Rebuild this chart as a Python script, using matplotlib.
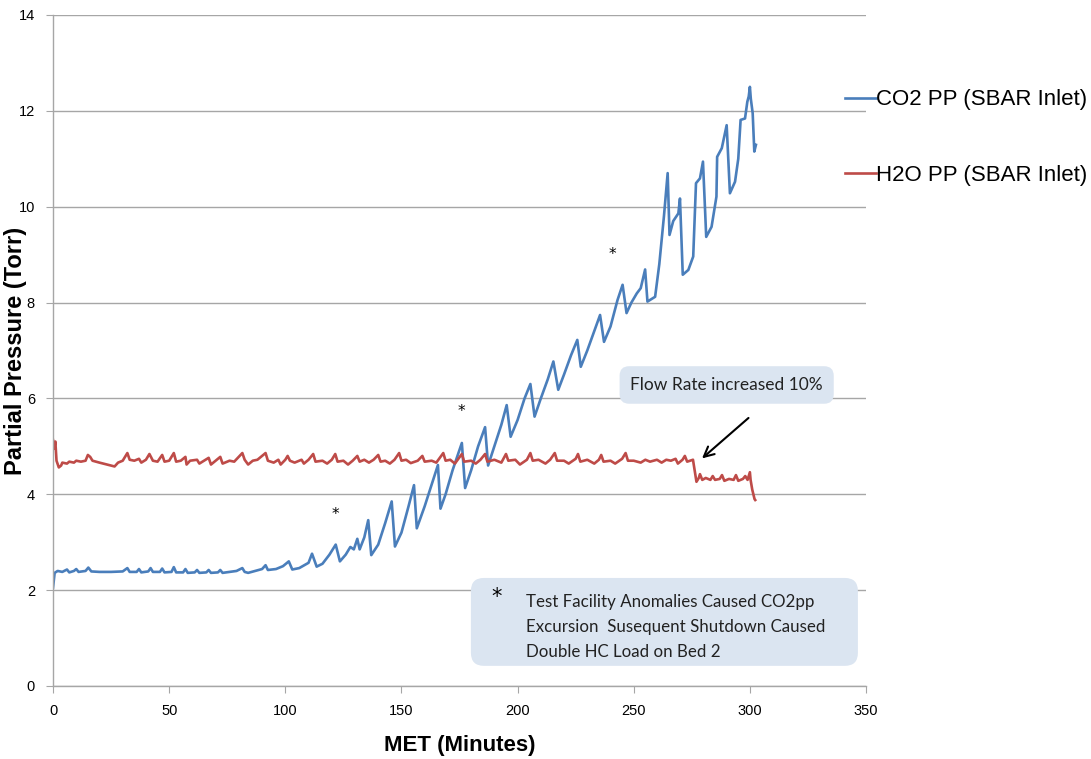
import numpy as np
import matplotlib.pyplot as plt
from matplotlib.patches import FancyBboxPatch

# =========================
# DONNEES
# =========================

# CO2 partial pressure at SBAR inlet (Torr) vs MET (min)
co2_t = [0, 0.7, 2, 4, 6, 7, 9, 10, 11, 14, 15.2, 16.5, 20, 25, 30, 32, 33, 36, 37, 38,
         41, 42, 43, 46, 47, 48, 51, 52, 53, 56, 57, 58, 61, 62, 63, 66, 67, 68, 71, 72,
         73, 76, 79, 81.5, 82.5, 84, 87, 90, 91.5, 92.5, 96, 99, 101.5, 103, 106, 110, 111.5,
         113.5, 116, 119, 121.7, 123.5, 126, 128, 129.5, 131, 132, 134, 135.7, 137, 140, 143,
         145.8, 147.2, 150, 153, 155.4, 156.6, 160, 163, 165.7, 166.8, 169, 172, 176, 177.4,
         180, 183, 186, 187.3, 190, 193, 195.3, 197, 200, 203, 205.5, 207.3, 210, 213, 215.4,
         217.5, 220, 223, 225.7, 227.2, 230, 233, 235.5, 237.2, 240, 243, 245.2, 246.9, 249,
         251.3, 253, 254.9, 255.9, 259.2, 261, 263, 264.6, 265.4, 267, 269.2, 269.9, 271.1,
         273.5, 275.6, 276.8, 278.5, 279.8, 281.2, 283.5, 285.6, 285.9, 287.9, 290, 291.4,
         293.6, 295, 296, 297.9, 298.9, 299.5, 300, 300.4, 301.2, 301.9, 302.6]
co2_pp = [2.05, 2.36, 2.4, 2.38, 2.43, 2.37, 2.4, 2.44, 2.38, 2.4, 2.47, 2.39, 2.38, 2.38, 2.39, 2.46, 2.38, 2.38, 2.44, 2.37,
          2.39, 2.46, 2.38, 2.38, 2.45, 2.37, 2.38, 2.48, 2.37, 2.37, 2.44, 2.36, 2.37, 2.42, 2.36, 2.37, 2.42, 2.36, 2.37, 2.42,
          2.36, 2.38, 2.4, 2.46, 2.38, 2.36, 2.4, 2.44, 2.52, 2.42, 2.44, 2.5, 2.6, 2.43, 2.46, 2.57, 2.76,
          2.49, 2.55, 2.74, 2.95, 2.6, 2.74, 2.9, 2.85, 3.07, 2.85, 3.1, 3.46, 2.73, 2.95, 3.4,
          3.85, 2.91, 3.2, 3.74, 4.19, 3.29, 3.75, 4.2, 4.61, 3.7, 4.0, 4.5, 5.07, 4.13,
          4.5, 5.0, 5.4, 4.6, 5.0, 5.45, 5.86, 5.2, 5.55, 6.0, 6.3, 5.62, 6.0, 6.4, 6.77,
          6.18, 6.5, 6.9, 7.22, 6.66, 7.0, 7.4, 7.74, 7.18, 7.5, 8.05, 8.37, 7.78, 8.0,
          8.19, 8.3, 8.69, 8.02, 8.12, 8.8, 9.8, 10.7, 9.41, 9.7, 9.86, 10.17, 8.58,
          8.68, 8.96, 10.49, 10.59, 10.94, 9.37, 9.58, 10.21, 11.04, 11.22, 11.7, 10.28,
          10.52, 11.0, 11.81, 11.84, 12.19, 12.3, 12.5, 12.25, 11.95, 11.15, 11.29]

# H2O partial pressure at SBAR inlet (Torr) vs MET (min)
h2o_t = [0, 0.5, 1, 1.5, 2.5, 3.5, 4, 6, 7, 9, 10, 12, 14, 15, 16, 17, 20, 24, 26.5, 28,
         30, 32, 33, 35, 37, 38, 40, 41.5, 43, 45, 47, 48, 50, 52, 53, 55, 57, 57.5, 59, 62,
         63, 65, 67, 68, 70, 72, 73, 76, 78, 81.5, 82.5, 84, 86, 88, 91.5, 92.5, 95, 97, 98, 100,
         101, 102, 104, 107, 108, 110, 112, 113, 116, 118, 120, 121.5, 122.5, 125, 127, 129, 131,
         132, 134, 136, 138, 140, 141, 143, 145, 147, 149, 150, 152, 154, 157, 159, 160, 163,
         165, 168, 169, 171, 173, 176, 177, 180, 182, 184, 186, 187, 190, 193, 195, 196, 199,
         201, 204, 205.5, 206.5, 209, 212, 214, 216, 217, 220, 222, 225, 226, 227, 230, 233,
         235, 236, 237, 240, 242, 245, 246.5, 247.5, 250, 253, 255, 257, 260, 262, 264, 266,
         268, 269, 271, 272, 273, 275.5, 276.5, 277, 278, 278.5, 279.5, 281, 283, 284, 285,
         287, 288, 289, 291, 293, 294, 295, 297, 298, 299, 300, 300.3, 301, 302, 302.3]
h2o_pp = [5.13, 4.95, 5.1, 4.7, 4.56, 4.6, 4.66, 4.64, 4.68, 4.66, 4.7, 4.68, 4.7, 4.82, 4.78, 4.7, 4.66, 4.61, 4.58, 4.66,
          4.7, 4.86, 4.72, 4.7, 4.74, 4.66, 4.72, 4.84, 4.7, 4.68, 4.82, 4.68, 4.7, 4.86, 4.68, 4.7, 4.78, 4.62, 4.7, 4.72,
          4.64, 4.7, 4.76, 4.62, 4.7, 4.78, 4.64, 4.7, 4.68, 4.86, 4.72, 4.62, 4.7, 4.72, 4.86, 4.7, 4.66, 4.72, 4.62, 4.72,
          4.8, 4.7, 4.66, 4.72, 4.64, 4.72, 4.84, 4.68, 4.7, 4.64, 4.72, 4.84, 4.68, 4.7, 4.62, 4.7, 4.8,
          4.68, 4.72, 4.66, 4.72, 4.82, 4.68, 4.7, 4.64, 4.72, 4.86, 4.7, 4.72, 4.65, 4.7, 4.8, 4.68, 4.7,
          4.66, 4.86, 4.7, 4.72, 4.64, 4.84, 4.68, 4.7, 4.64, 4.72, 4.84, 4.68, 4.72, 4.66, 4.84, 4.7, 4.72,
          4.62, 4.72, 4.86, 4.7, 4.72, 4.64, 4.72, 4.86, 4.7, 4.7, 4.64, 4.74, 4.84, 4.68, 4.72, 4.64,
          4.72, 4.82, 4.68, 4.7, 4.64, 4.74, 4.86, 4.7, 4.7, 4.66, 4.72, 4.68, 4.72, 4.66, 4.72, 4.7,
          4.74, 4.64, 4.72, 4.8, 4.68, 4.72, 4.42, 4.26, 4.34, 4.42, 4.3, 4.34, 4.3, 4.38, 4.3,
          4.32, 4.4, 4.28, 4.32, 4.3, 4.4, 4.28, 4.32, 4.38, 4.3, 4.46, 4.3, 4.1, 3.9, 3.88]

series_labels = ['CO2 PP (SBAR Inlet)', 'H2O PP (SBAR Inlet)']
x_ticks = [0, 50, 100, 150, 200, 250, 300, 350]
y_ticks = [0, 2, 4, 6, 8, 10, 12, 14]

# positions des asterisques (anomalies)
star_t = [121.4, 175.6, 240.6]
star_y = [3.57, 5.72, 9.0]

# =========================
# FIGURE
# =========================

fig = plt.figure(figsize=(10.91, 7.59), dpi=100)
ax = fig.add_axes([0.0486, 0.0962, 0.7452, 0.8841])

ax.plot(co2_t, co2_pp, color='#4a7ebb', lw=1.9, label=series_labels[0])
ax.plot(h2o_t, h2o_pp, color='#be4b48', lw=1.9, label=series_labels[1])

ax.set_xlim(0, 350)
ax.set_ylim(0, 14)
ax.set_xticks(x_ticks)
ax.set_yticks(y_ticks)
ax.yaxis.grid(True, color='#a6a6a6', lw=1.0)
ax.set_axisbelow(True)
for s in ['top', 'right']:
    ax.spines[s].set_visible(False)
for s in ['left', 'bottom']:
    ax.spines[s].set_color('#a6a6a6')
    ax.spines[s].set_linewidth(1.0)
ax.tick_params(axis='both', colors='#a6a6a6', length=5, labelcolor='black',
               labelsize=10.5, pad=8)
for lab in ax.get_xticklabels() + ax.get_yticklabels():
    lab.set_family('Liberation Sans')

ax.set_xlabel('MET (Minutes)', fontsize=16, fontweight='bold', family='Liberation Sans')
ax.xaxis.set_label_coords(0.5, -0.073)
ax.set_ylabel('Partial Pressure (Torr)', fontsize=17, fontweight='bold', family='Liberation Sans')
ax.yaxis.set_label_coords(-0.032, 0.5)

# asterisques
for t, y in zip(star_t, star_y):
    ax.text(t, y, '*', fontsize=11, ha='center', va='center', color='black')

# boite "Flow Rate increased 10%"
ax.text(290, 6.28, 'Flow Rate increased 10%', fontsize=12.5, family='Lato', ha='center', va='center',
        color='#222222',
        bbox=dict(boxstyle='round,pad=0.62,rounding_size=0.55', fc='#dbe5f1', ec='none'))
ax.annotate('', xy=(278.5, 4.71), xytext=(300.3, 5.63),
            arrowprops=dict(arrowstyle='->', color='black', lw=1.5, mutation_scale=18))

# boite des anomalies (coordonnees axes)
box = FancyBboxPatch((0.514, 0.030), 0.476, 0.131, boxstyle='round,pad=0,rounding_size=0.016',
                     fc='#dbe5f1', ec='none', mutation_aspect=813 / 671,
                     transform=ax.transAxes)
ax.add_patch(box)
ax.text(191.1, 1.86, '*', fontsize=15, ha='center', va='center')
ax.text(203.6, 1.23, 'Test Facility Anomalies Caused CO2pp\nExcursion  Susequent Shutdown Caused\nDouble HC Load on Bed 2',
        fontsize=12.2, family='Lato', ha='left', va='center', linespacing=1.7, color='#222222')

# legende
ax.legend(loc='upper left', bbox_to_anchor=(0.974, 0.889), frameon=False,
          prop={'family': 'Liberation Sans', 'size': 16}, handlelength=1.4, handletextpad=0.0,
          labelspacing=2.45, borderaxespad=0, borderpad=0)

plt.savefig('out.png', dpi=100)
